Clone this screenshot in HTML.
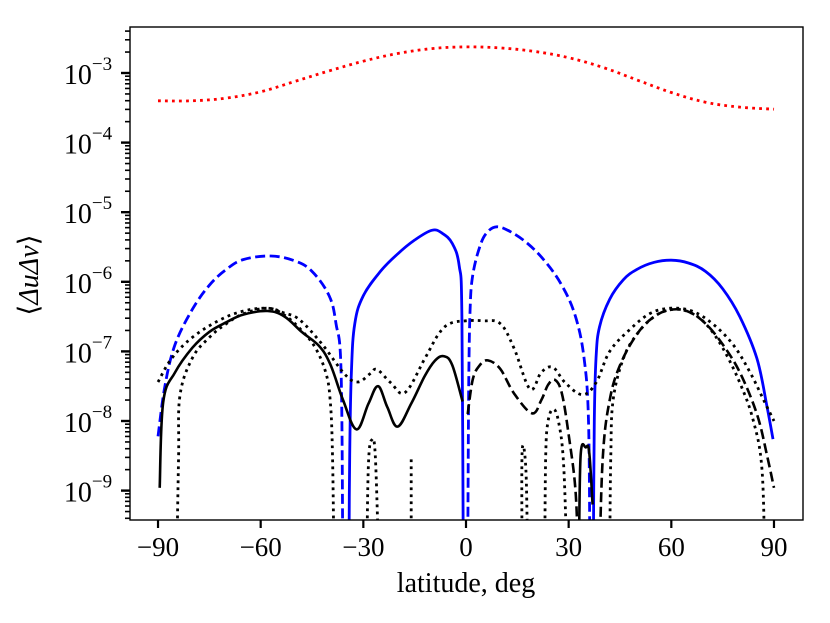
<!DOCTYPE html>
<html><head><meta charset="utf-8">
<style>
html,body{margin:0;padding:0;background:#fff;}
svg{display:block;font-family:"Liberation Serif","DejaVu Serif",serif;}
</style></head>
<body>
<svg id="chart" width="830" height="623" viewBox="0 0 830 623">
<defs><clipPath id="plotclip"><rect x="130" y="27" width="673" height="493"/></clipPath></defs>
<g id="marks" clip-path="url(#plotclip)"></g>
<rect x="130" y="27" width="673" height="493" fill="none" stroke="#000" stroke-width="1.4"/>
<g id="axes"></g>
<text x="466" y="592" font-size="28" text-anchor="middle">latitude, deg</text>
<text transform="translate(38,275) rotate(-90)" font-size="28" text-anchor="middle">⟨<tspan font-style="italic">Δu</tspan><tspan font-style="italic">Δv</tspan>⟩</text>
</svg>
<script>
const xTicks=[-90,-60,-30,0,30,60,90];
const yDecades=[-9,-8,-7,-6,-5,-4,-3];
const redDotted=[[-90,-3.40],[-80,-3.40],[-70,-3.36],[-60,-3.27],[-50,-3.12],[-40,-2.97],[-30,-2.83],[-20,-2.72],[-10,-2.65],[0,-2.625],[10,-2.64],[20,-2.69],[30,-2.78],[40,-2.92],[50,-3.10],[60,-3.28],[70,-3.42],[80,-3.49],[90,-3.52]];
const blueSolid1=[[-34.2,-10],[-34,-8.5],[-33.5,-7.3],[-32.5,-6.6],[-30,-6.2],[-25,-5.85],[-20,-5.6],[-15,-5.4],[-10,-5.26],[-7,-5.3],[-4,-5.45],[-2,-5.77],[-1.2,-6.5],[-0.8,-10]];
const blueSolid2=[[37.2,-10],[37.5,-8],[38,-7.1],[39,-6.65],[42,-6.25],[46,-5.97],[50,-5.82],[55,-5.72],[60,-5.69],[65,-5.73],[70,-5.85],[75,-6.1],[80,-6.5],[85,-7.1],[88,-7.8],[89.7,-8.26]];
const blueDashed1=[[-90,-8.22],[-88,-7.5],[-85,-6.9],[-80,-6.4],[-75,-6.05],[-70,-5.82],[-65,-5.68],[-57,-5.63],[-50,-5.7],[-45,-5.85],[-40,-6.2],[-38,-6.6],[-36.5,-7.3],[-36,-10]];
const blueDashed2=[[0.5,-10],[0.8,-7.5],[1.2,-6.4],[2,-5.9],[4,-5.5],[6,-5.3],[9,-5.21],[13,-5.28],[18,-5.45],[23,-5.7],[28,-6.05],[32,-6.5],[34.5,-7.1],[35.8,-8],[36.2,-10]];
const blackSolid1=[[-89.5,-8.96],[-88.5,-7.73],[-85,-7.3],[-80,-6.95],[-75,-6.72],[-70,-6.58],[-65,-6.47],[-58,-6.42],[-53,-6.5],[-48,-6.72],[-43,-6.92],[-39.7,-7.18],[-36,-7.69],[-32,-8.12],[-28.5,-7.75],[-25.7,-7.5],[-23,-7.8],[-20,-8.08],[-16,-7.75],[-12,-7.35],[-9,-7.13],[-6.4,-7.07],[-4,-7.2],[-1,-7.72]];
const blackSolid2=[[33,-10],[33.5,-8.5],[35,-8.38],[36,-8.45],[37,-9.2]];
const blackDashed1=[[0.5,-7.9],[2,-7.4],[4,-7.2],[6.4,-7.13],[10,-7.25],[14,-7.6],[19.3,-7.89],[22,-7.7],[24,-7.48],[26,-7.41],[28,-7.6],[30,-8.2],[32,-9],[32.8,-10]];
const blackDashed2=[[39,-10],[40,-8.5],[42,-7.7],[45,-7.2],[50,-6.75],[55,-6.5],[60,-6.4],[65,-6.43],[70,-6.6],[75,-6.9],[80,-7.3],[85,-7.9],[88,-8.5],[90,-8.96]];
const dottedUpper=[[-90,-7.44],[-86,-7.1],[-80,-6.8],[-72,-6.55],[-65,-6.42],[-58,-6.38],[-53,-6.45],[-48.5,-6.55],[-42,-6.9],[-35.4,-7.33],[-31.6,-7.44],[-28,-7.32],[-26,-7.26],[-22,-7.45],[-17.8,-7.59],[-12,-7.1],[-8,-6.75],[-4.7,-6.6],[0,-6.56],[5,-6.56],[10,-6.6],[14,-6.95],[18.7,-7.54],[22,-7.3],[25.4,-7.23],[29,-7.45],[34,-7.62],[38,-7.45],[42,-7.0],[48,-6.68],[54,-6.45],[60,-6.38],[66,-6.42],[72,-6.6],[78,-6.9],[83,-7.3],[87,-7.7],[90,-8.0]];
const dottedLower1=[[-84.5,-10],[-84,-8.5],[-83.6,-7.64],[-80,-7.1],[-75,-6.8],[-70,-6.6],[-65,-6.46],[-58,-6.38],[-53,-6.48],[-48,-6.7],[-44,-6.95],[-41,-7.3],[-39.7,-7.69],[-39,-8.5],[-38.6,-10]];
const dottedLower2=[[-29,-10],[-28.5,-8.6],[-27.5,-8.27],[-26.5,-8.5],[-25.5,-10]];
const dottedLower3=[[-16,-10],[-16,-8.5]];
const dottedLower4=[[16.4,-10],[16.4,-8.45],[17.5,-8.7],[18,-10]];
const dottedLower5=[[23,-10],[23.3,-8.5],[24,-8.0],[25.5,-7.83],[27,-8.0],[28.5,-8.6],[29.5,-10]];
const dottedLower6=[[42,-10],[42.3,-8.5],[43,-7.7],[46,-7.1],[50,-6.75],[55,-6.5],[60,-6.4],[65,-6.43],[70,-6.6],[75,-6.95],[80,-7.45],[84,-8.0],[86.5,-8.7],[87.3,-10]];

function X(lat){return 466+lat*3.422;}
function Y(lg){return 73+(-3-lg)*69.6;}
const NS='http://www.w3.org/2000/svg';
const marks=document.getElementById('marks');
const axes=document.getElementById('axes');
function smoothPath(pts){
  let d='M'+pts[0][0].toFixed(1)+','+pts[0][1].toFixed(1);
  for(let i=0;i<pts.length-1;i++){
    const p0=pts[Math.max(i-1,0)],p1=pts[i],p2=pts[i+1],p3=pts[Math.min(i+2,pts.length-1)];
    const t=0.18;
    const c1=[p1[0]+(p2[0]-p0[0])*t,p1[1]+(p2[1]-p0[1])*t];
    const c2=[p2[0]-(p3[0]-p1[0])*t,p2[1]-(p3[1]-p1[1])*t];
    d+='C'+c1[0].toFixed(1)+','+c1[1].toFixed(1)+' '+c2[0].toFixed(1)+','+c2[1].toFixed(1)+' '+p2[0].toFixed(1)+','+p2[1].toFixed(1);
  }
  return d;
}
function drawSeries(data,color,dash,width,name){
  const p=document.createElementNS(NS,'path');
  p.setAttribute('d',smoothPath(data.map(d=>[X(d[0]),Y(d[1])])));
  p.setAttribute('fill','none');p.setAttribute('stroke',color);p.setAttribute('stroke-width',width);
  p.setAttribute('stroke-linejoin','round');
  if(dash)p.setAttribute('stroke-dasharray',dash);
  
  
  marks.appendChild(p);
}
drawSeries(redDotted,'#ff0000','2.8 4.2',2.8,'red-dotted-series');
drawSeries(blueSolid1,'#0000ff',null,2.8,'blue-solid-series');
drawSeries(blueSolid2,'#0000ff',null,2.8,'blue-solid-series');
drawSeries(blueDashed1,'#0000ff','10 4.5',2.8,'blue-dashed-series');
drawSeries(blueDashed2,'#0000ff','10 4.5',2.8,'blue-dashed-series');
drawSeries(blackSolid1,'#000',null,2.6,'black-solid-series');
drawSeries(blackSolid2,'#000',null,2.6,'black-solid-series');
drawSeries(blackDashed1,'#000','10 4.5',2.6,'black-dashed-series');
drawSeries(blackDashed2,'#000','10 4.5',2.6,'black-dashed-series');
[dottedUpper,dottedLower1,dottedLower2,dottedLower3,dottedLower4,dottedLower5,dottedLower6].forEach(d=>drawSeries(d,'#000','2.8 4.2',2.8,'black-dotted-series'));

function line(x1,y1,x2,y2,w,name){
  const l=document.createElementNS(NS,'line');
  l.setAttribute('x1',x1);l.setAttribute('y1',y1);l.setAttribute('x2',x2);l.setAttribute('y2',y2);
  l.setAttribute('stroke','#000');l.setAttribute('stroke-width',w);
  
  
  axes.appendChild(l);
}
function text(x,y,s,anchor,size,name){
  const t=document.createElementNS(NS,'text');
  t.setAttribute('x',x);t.setAttribute('y',y);t.setAttribute('font-size',size);t.setAttribute('text-anchor',anchor);
  t.innerHTML=s;
  
  
  axes.appendChild(t);
}
xTicks.forEach(v=>{
  line(X(v),520,X(v),528,2.2,'x-tick');
  text(X(v),556,(v<0?'−':'')+Math.abs(v),'middle',27,'x-tick-label');
});
yDecades.forEach(d=>{
  line(121,Y(d),130,Y(d),2.4,'y-major-tick');
  text(88,Y(d)+11,'10<tspan dy="-14" font-size="19">−'+Math.abs(d)+'</tspan>','middle',28,'y-tick-label');
});
for(let d=-10;d<=-2;d++){
  for(let k=2;k<=9;k++){
    const lg=d+Math.log10(k);
    const y=Y(lg);
    if(y>27&&y<520)line(125,y,130,y,1.6,'y-minor-tick');
  }
}
</script>
</body></html>
